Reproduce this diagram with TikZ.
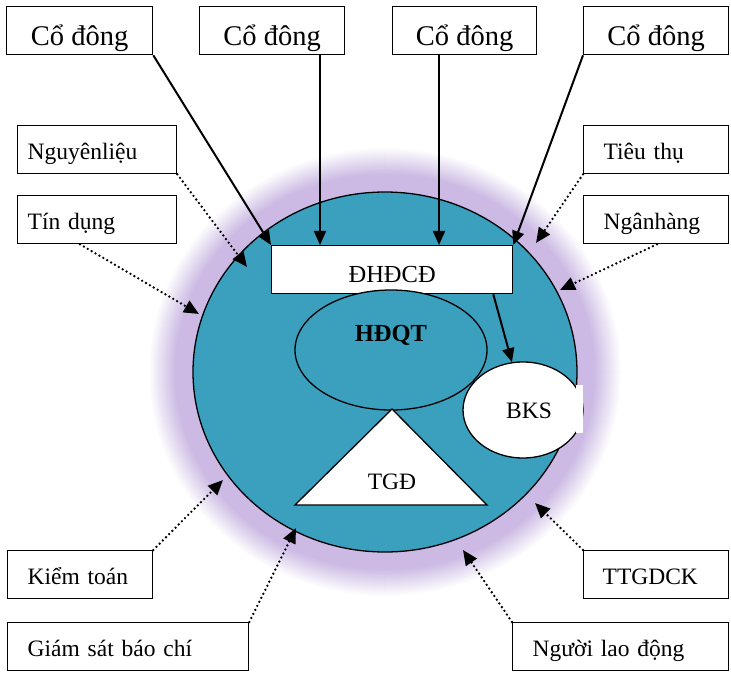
\documentclass[tikz,border=0pt]{standalone}
\usepackage{fontspec}
\setmainfont{Liberation Serif}
\usetikzlibrary{arrows.meta,calc,shapes.geometric}
\definecolor{sea}{RGB}{58,160,190}
\definecolor{glow}{RGB}{204,186,228}
\def\cdsize{\fontsize{28.5pt}{32pt}\selectfont}
\def\lblsize{\fontsize{23.5pt}{27pt}\selectfont}
\def\insize{\fontsize{24.5pt}{28pt}\selectfont}

\tikzset{
	cobox/.style={draw, line width=1.3pt, fill=white, minimum width=145pt, minimum height=48pt, inner sep=0pt, text height=30pt, text depth=0pt, anchor=north west, font=\cdsize},
	lbl/.style={draw, line width=1.3pt, fill=white, minimum height=48pt, inner ysep=0pt, text height=20pt, text depth=0pt, align=left, anchor=north west, font=\lblsize},
	solidarr/.style={line width=2pt, -{Triangle[length=14pt,width=12pt]}},
	dotarr/.style={line width=2.6pt, line cap=round, dash pattern=on 0pt off 4.5pt, -{Triangle[length=15pt,width=13pt]}},
}

\begin{document}
\begin{tikzpicture}[x=1pt, y=-1pt]
		%%%%% START %%%%%
		\useasboundingbox (0,0) rectangle (731,679);
		
		% glow and company circle
		\foreach \i in {0,...,27}{
			\pgfmathsetmacro\r{45-\i}
			\pgfmathtruncatemacro\p{100*\i/27}
			\fill[glow!\p!white] (385,372) ellipse [x radius=192pt+\r pt, y radius=180pt+\r pt];
		}
		\draw[line width=1.3pt, fill=sea] (385,372) ellipse [x radius=192pt, y radius=180pt];
		
		% shareholders
		\node[cobox, minimum width=146pt] (cd1) at (6,6) {Cổ đông};
		\node[cobox] (cd2) at (199,6) {Cổ đông};
		\node[cobox, minimum width=144pt] (cd3) at (392,6) {Cổ đông};
		\node[cobox] (cd4) at (583,6) {Cổ đông};
		
		% outside parties
		\node[lbl, text width=139pt, inner xsep=10pt] (nl) at (17,125) {Nguyênliệu};
		\node[lbl, text width=139pt, inner xsep=10pt] (td) at (17,195) {Tín dụng};
		\node[lbl, text width=105pt, inner xsep=20pt] (tt) at (583,125) {Tiêu thụ};
		\node[lbl, text width=105pt, inner xsep=20pt] (nh) at (583,195) {Ngânhàng};
		\node[lbl, text width=105pt, inner xsep=20pt] (kt) at (7,550) {Kiểm toán};
		\node[lbl, text width=201pt, inner xsep=20pt] (gs) at (7,622) {Giám sát báo chí};
		\node[lbl, text width=107pt, inner xsep=19pt] (ttgdck) at (583,550) {TTGDCK};
		\node[lbl, text width=176pt, inner xsep=20pt] (nld) at (512,622) {Người lao động};
		
		% inside the company
		\node[draw, line width=1.3pt, fill=white, minimum width=241pt, minimum height=48pt, inner ysep=0pt, text height=26pt, text depth=0pt, anchor=north west, font=\insize] (dh) at (271,245) {ĐHĐCĐ};
		\draw[line width=1.3pt, fill=sea] (391,350) ellipse [x radius=96pt, y radius=60pt];
		\node[font=\insize\bfseries] (hdqt) at (391,335) {HĐQT};
		\draw[line width=1.3pt, fill=white] (392,409) -- (487,505) -- (295,505) -- cycle;
		\node[font=\lblsize] (tgd) at (392,482) {TGĐ};
		\node[ellipse, draw, line width=1.3pt, fill=white, minimum width=120pt, minimum height=96pt, inner sep=0pt] (bks) at (523,410) {};
		\fill[white] (576,385) rectangle (583,433);
		\node[font=\lblsize] at (529,411) {BKS};
		
		% shareholders vote
		\coordinate (in2) at ($(dh.north west)+(49,0)$);
		\coordinate (in3) at ($(dh.north west)+(168,0)$);
		\draw[solidarr] (cd1.south east) -- (dh.north west);
		\draw[solidarr] (cd2.south -| in2) -- (in2);
		\draw[solidarr] (cd3.south -| in3) -- (in3);
		\draw[solidarr] (cd4.south west) -- (dh.north east);
		\draw[solidarr] ($(dh.south east)+(-20,0)$) -- (bks.103);
		
		% outside influence
		\coordinate (nlend) at (247,267);
		\coordinate (tdend) at (199,314);
		\coordinate (ttend) at (536,243);
		\coordinate (nhend) at (560,290);
		\coordinate (ktend) at (223,480);
		\coordinate (gsend) at (296,528);
		\coordinate (ckend) at (535,503);
		\coordinate (ldend) at (463,550);
		\draw[dotarr] (nl.south east) -- (nlend);
		\draw[dotarr] ($(td.south west)+(63,0)$) -- (tdend);
		\draw[dotarr] (tt.south west) -- (ttend);
		\draw[dotarr] ($(nh.south west)+(74,0)$) -- (nhend);
		\draw[dotarr] (kt.north east) -- (ktend);
		\draw[dotarr] (gs.north east) -- (gsend);
		\draw[dotarr] (ttgdck.north west) -- (ckend);
		\draw[dotarr] (nld.north west) -- (ldend);
		
		%%%%% END %%%%%
\end{tikzpicture}
\end{document}
